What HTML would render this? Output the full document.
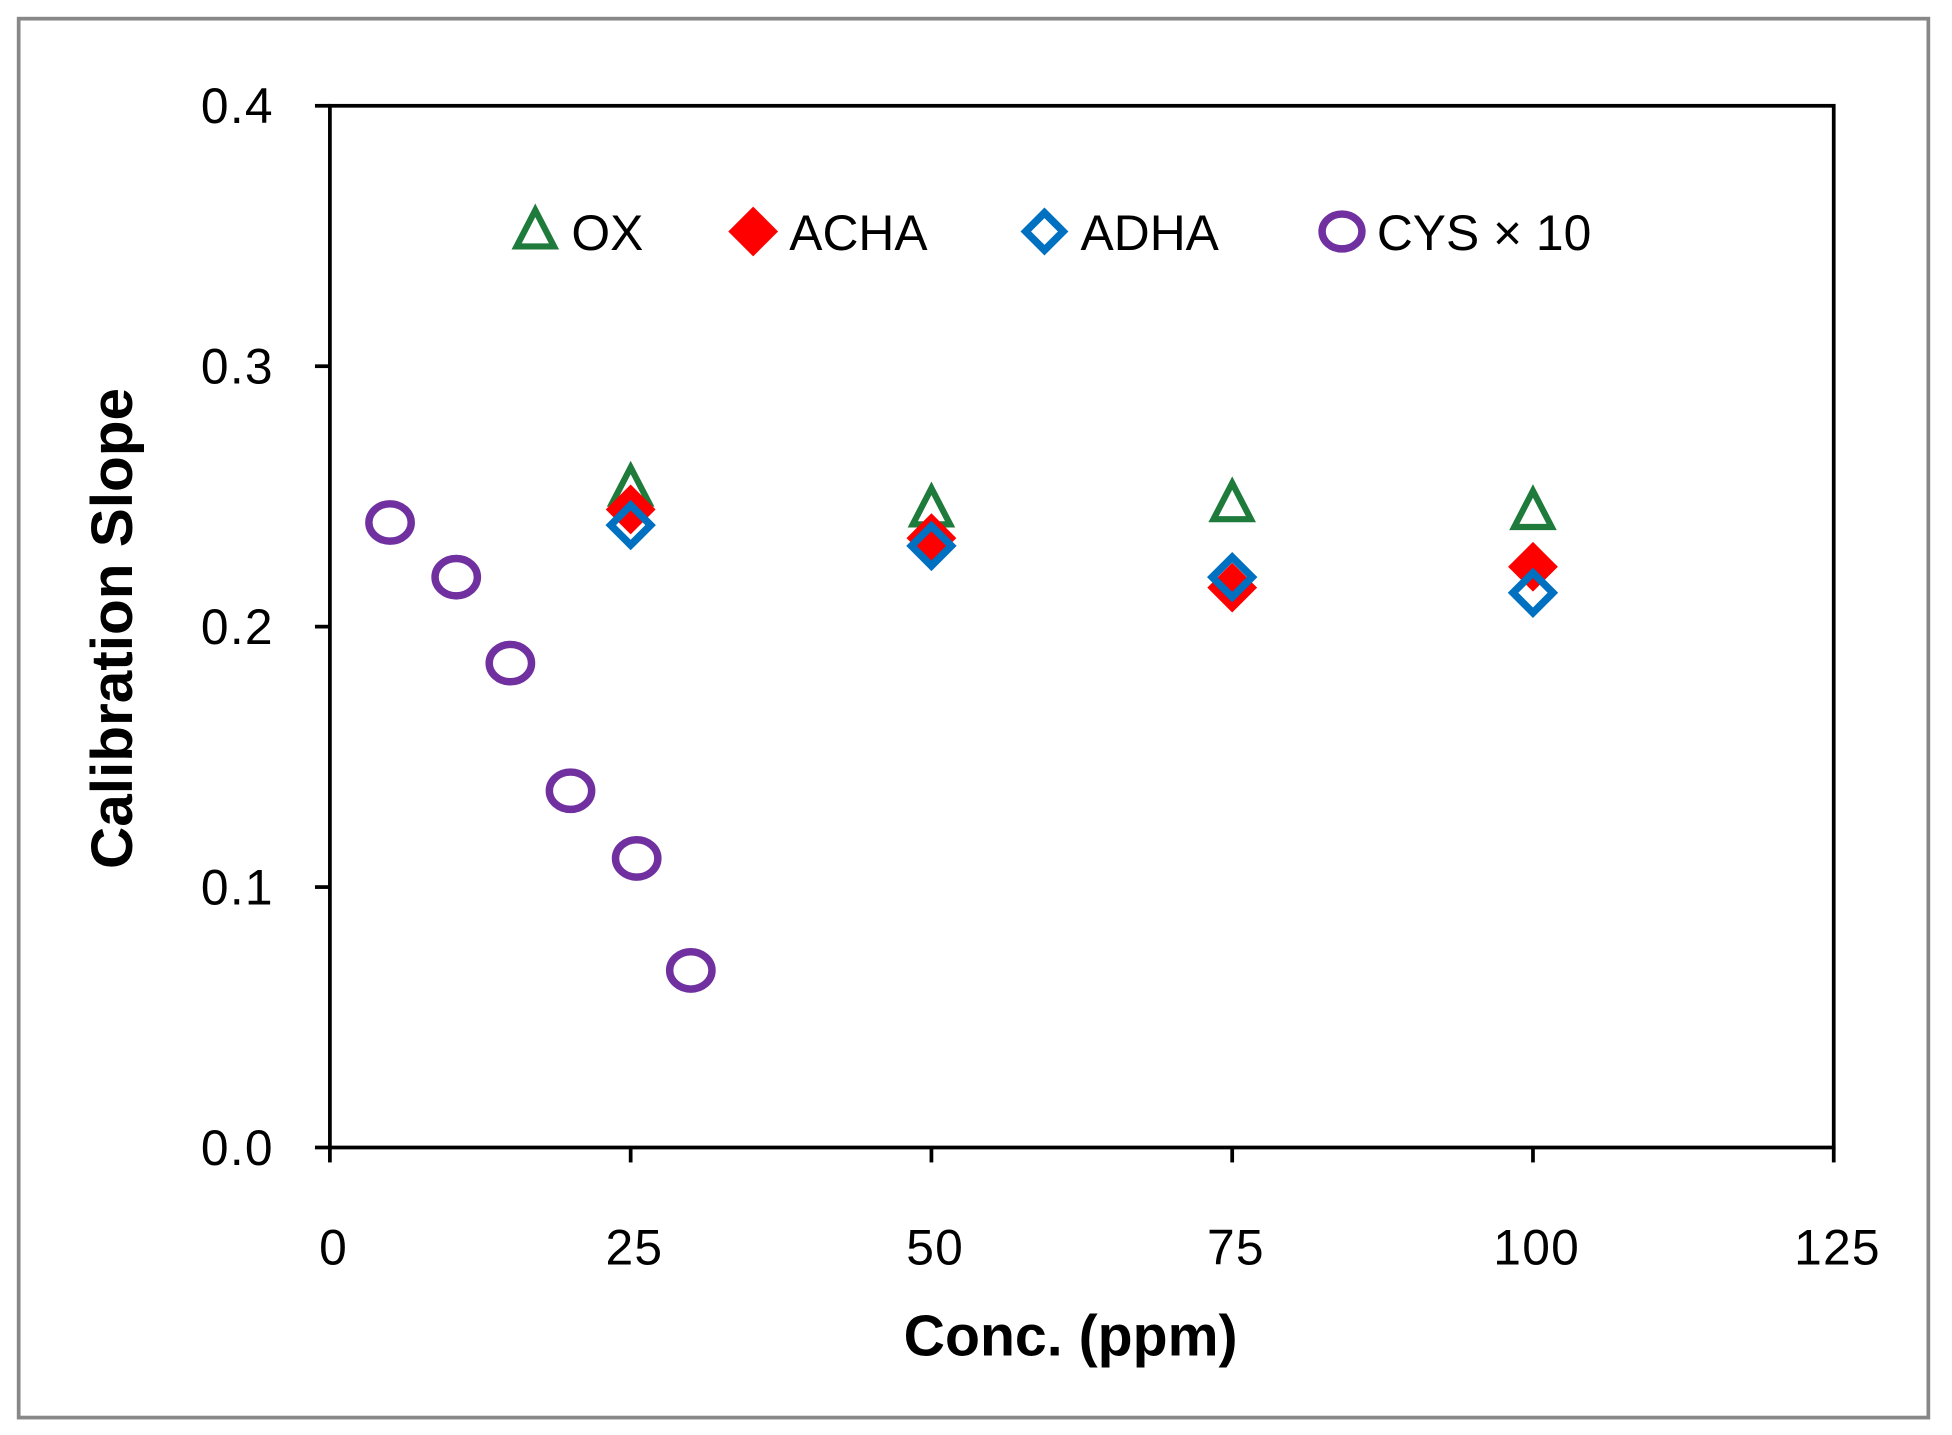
<!DOCTYPE html>
<html><head><meta charset="utf-8"><style>
html,body{margin:0;padding:0;background:#fff;}
svg{display:block;font-family:"Liberation Sans",sans-serif;}
</style></head><body>
<svg id="chart" width="1952" height="1435" viewBox="0 0 1568 1153" preserveAspectRatio="none" xmlns="http://www.w3.org/2000/svg">
<rect x="15" y="15" width="1534" height="1124" fill="#fff" stroke="#888" stroke-width="3"/>
<g id="plot"></g>
</svg>
<script>
const xTicks=[0,25,50,75,100,125];
const yTicks=[0.0,0.1,0.2,0.3,0.4];
const yTickLabels=["0.0","0.1","0.2","0.3","0.4"];
const oxX=[25,50,75,100];
const oxY=[0.253,0.245,0.247,0.244];
const achaX=[25,50,75,100];
const achaY=[0.245,0.234,0.215,0.223];
const adhaX=[25,50,75,100];
const adhaY=[0.239,0.231,0.219,0.213];
const cysX=[5,10.5,15,20,25.5,30];
const cysY=[0.240,0.219,0.186,0.137,0.111,0.068];

const NS="http://www.w3.org/2000/svg";
const g=document.getElementById('plot');
const X0=265,X1=1473,Y0=922,Y1=85;
const sx=v=>X0+(v-0)/125*(X1-X0);
const sy=v=>Y0-(v-0)/0.4*(Y0-Y1);
function mk(tag,attrs,parent){const e=document.createElementNS(NS,tag);for(const k in attrs)e.setAttribute(k,attrs[k]);(parent||g).appendChild(e);return e;}
const GREEN="#1e7b3c",RED="#ff0000",BLUE="#0070c0",PURPLE="#7030a0";

let frame=mk('rect',{x:X0,y:Y1,width:X1-X0,height:Y0-Y1,fill:'none',stroke:'#000','stroke-width':3});



yTicks.forEach((t,i)=>{
  let l=mk('line',{x1:X0-12,x2:X0,y1:sy(t),y2:sy(t),stroke:'#000','stroke-width':3});
  
  
  let tx=mk('text',{x:220,y:sy(t)+14,'text-anchor':'end','font-size':40,'letter-spacing':1});
  tx.textContent=yTickLabels[i];
  
  
});
xTicks.forEach(t=>{
  let l=mk('line',{x1:sx(t),x2:sx(t),y1:Y0,y2:Y0+12,stroke:'#000','stroke-width':3});
  
  
  let tx=mk('text',{x:sx(t)+3,y:1016,'text-anchor':'middle','font-size':40,'letter-spacing':1});
  tx.textContent=String(t);
  
  
});
let xt=mk('text',{x:860,y:1089,'text-anchor':'middle','font-size':46,'font-weight':'bold'});
xt.textContent='Conc. (ppm)';


let yt=mk('text',{x:0,y:0,'text-anchor':'middle','font-size':47,'font-weight':'bold',transform:'translate(106,505) rotate(-90)'});
yt.textContent='Calibration Slope';



function tri(cx,cy){return mk('polygon',{points:`${cx},${cy-17} ${cx+15},${cy+12} ${cx-15},${cy+12}`,fill:'none',stroke:GREEN,'stroke-width':5});}
function dia(cx,cy,r,fill,stroke,sw){return mk('polygon',{points:`${cx},${cy-r} ${cx+r},${cy} ${cx},${cy+r} ${cx-r},${cy}`,fill:fill,stroke:stroke,'stroke-width':sw});}
function circ(cx,cy){return mk('ellipse',{cx:cx,cy:cy,rx:17,ry:15,fill:'none',stroke:PURPLE,'stroke-width':6});}

oxX.forEach((x,i)=>{let m=tri(sx(x),sy(oxY[i]));
  
  });
achaX.forEach((x,i)=>{let m=dia(sx(x),sy(achaY[i]),20,RED,'none',0);
  
  });
adhaX.forEach((x,i)=>{let m=dia(sx(x),sy(adhaY[i]),16,'none',BLUE,6);
  
  });
cysX.forEach((x,i)=>{let m=circ(sx(x),sy(cysY[i]));
  
  });

let lg=mk('g',{});


function ltext(x,s){let t=mk('text',{x:x,y:201,'font-size':40},lg);t.textContent=s;
  
  return t;}
let a=mk('polygon',{points:'430,169 445,198 415,198',fill:'none',stroke:GREEN,'stroke-width':5},lg);


ltext(459,'OX');
let b=mk('polygon',{points:'605,166 625,186 605,206 585,186',fill:RED},lg);


ltext(634,'ACHA');
let c=mk('polygon',{points:'839,171 854,186 839,201 824,186',fill:'none',stroke:BLUE,'stroke-width':6},lg);


ltext(868,'ADHA');
let d=mk('ellipse',{cx:1078,cy:186,rx:16,ry:14,fill:'none',stroke:PURPLE,'stroke-width':6},lg);


ltext(1106,'CYS × 10');
</script>
</body></html>
